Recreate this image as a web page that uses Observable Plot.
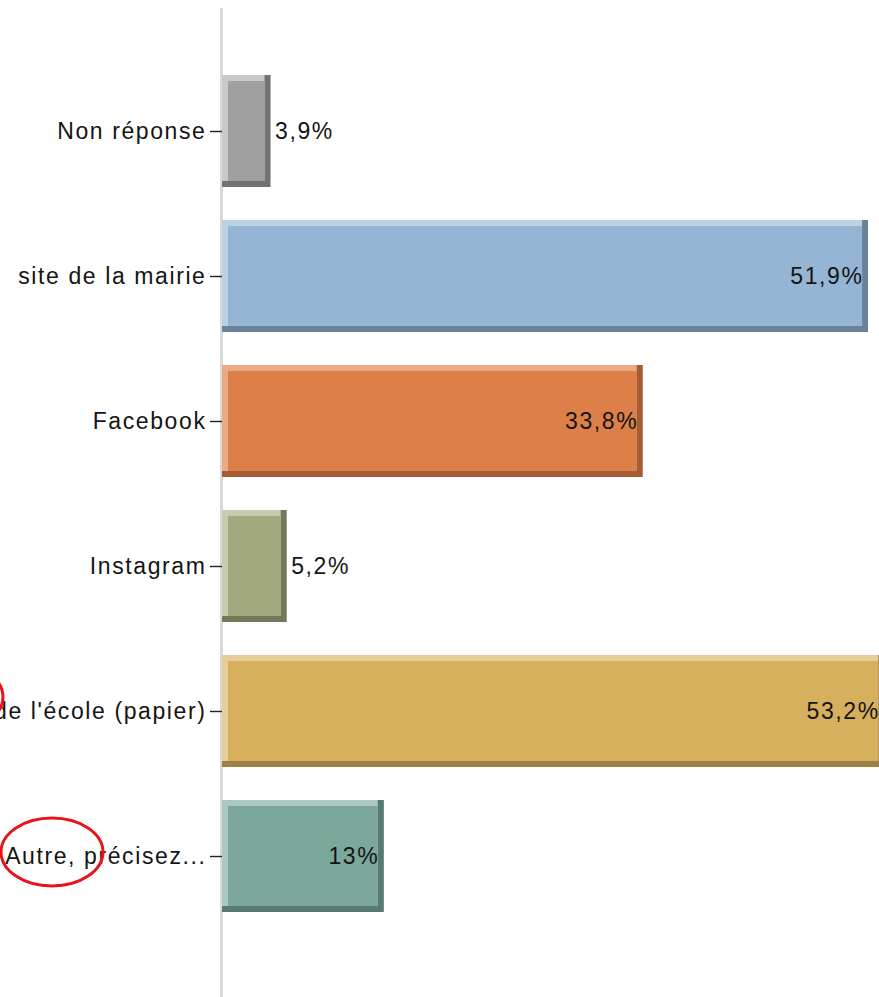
<!DOCTYPE html>
<html>
<head>
<meta charset="utf-8">
<script src="https://cdn.jsdelivr.net/npm/d3@7"></script>
<script src="https://cdn.jsdelivr.net/npm/@observablehq/plot@0.6"></script>
<style>
  html, body { margin: 0; padding: 0; background: #fff; overflow: hidden; width: 879px; height: 997px; }
  #chart svg { max-width: none !important; height: 997px !important; display: block; }
  #chart svg text { letter-spacing: 1.6px; }
</style>
</head>
<body>
<div id="chart"></div>
<script>
// Data
const categories = ["Non réponse", "site de la mairie", "Facebook", "Instagram", "de l'école (papier)", "Autre, précisez..."];
const values = [3.9, 51.9, 33.8, 5.2, 53.2, 13];

// Styles (bevelled bars: main face, light top/left edge, dark bottom/right edge)
const mainColors  = ["#a0a0a0", "#94b5d3", "#dc7f48", "#a4aa7f", "#d7b05e", "#7ca89b"];
const lightColors = ["#c9c9c9", "#bdd1e4", "#eaaa84", "#c7cbaf", "#e7cd98", "#abc9c0"];
const darkColors  = ["#727272", "#6b8399", "#a45e35", "#75795b", "#9d8144", "#587b71"];

const data = categories.map((category, i) => ({category, value: values[i], i}));
const fmt = d => d3.format(".1~f")(d.value).replace(".", ",") + "%";
const inside = d => d.value >= 10;

const chart = Plot.plot({
  width: 1000,
  height: 997,
  marginLeft: 222,
  marginRight: 0,
  marginTop: 8,
  marginBottom: 0,
  style: {fontFamily: "'Liberation Sans', Arial, sans-serif", fontSize: "23px", color: "#141414", background: "#fff", maxWidth: "none"},
  x: {domain: [0, 62.5], axis: null},
  y: {domain: categories, range: [58.5, 928.5], paddingInner: 0.23, paddingOuter: 0.115, axis: null, label: null},
  marks: [
    Plot.ruleX([0], {stroke: "#d9d9d9", strokeWidth: 3, dx: -1}),
    Plot.axisY({tickSize: 12, tickPadding: 4, stroke: "#222", strokeWidth: 1.4, fill: "#141414", fontSize: 23, label: null}),
    Plot.barX(data, {x: "value", y: "category", fill: d => darkColors[d.i]}),
    Plot.barX(data, {x: "value", y: "category", fill: d => lightColors[d.i], insetRight: 6, insetBottom: 6}),
    Plot.barX(data, {x: "value", y: "category", fill: d => mainColors[d.i], inset: 6}),
    Plot.text(data.filter(inside), {x: "value", y: "category", text: fmt, textAnchor: "end", dx: -5, fill: "#141414", fontSize: 23}),
    Plot.text(data.filter(d => !inside(d)), {x: "value", y: "category", text: fmt, textAnchor: "start", dx: 4, fill: "#141414", fontSize: 23})
  ]
});

document.getElementById("chart").appendChild(chart);

// Red hand-drawn annotation circles
const svg = d3.select(chart);
svg.append("ellipse").attr("cx", 52).attr("cy", 852).attr("rx", 51).attr("ry", 34)
  .attr("fill", "none").attr("stroke", "#e8141b").attr("stroke-width", 3);
svg.append("ellipse").attr("cx", -48).attr("cy", 697).attr("rx", 51).attr("ry", 34)
  .attr("fill", "none").attr("stroke", "#e8141b").attr("stroke-width", 3);
</script>
</body>
</html>
